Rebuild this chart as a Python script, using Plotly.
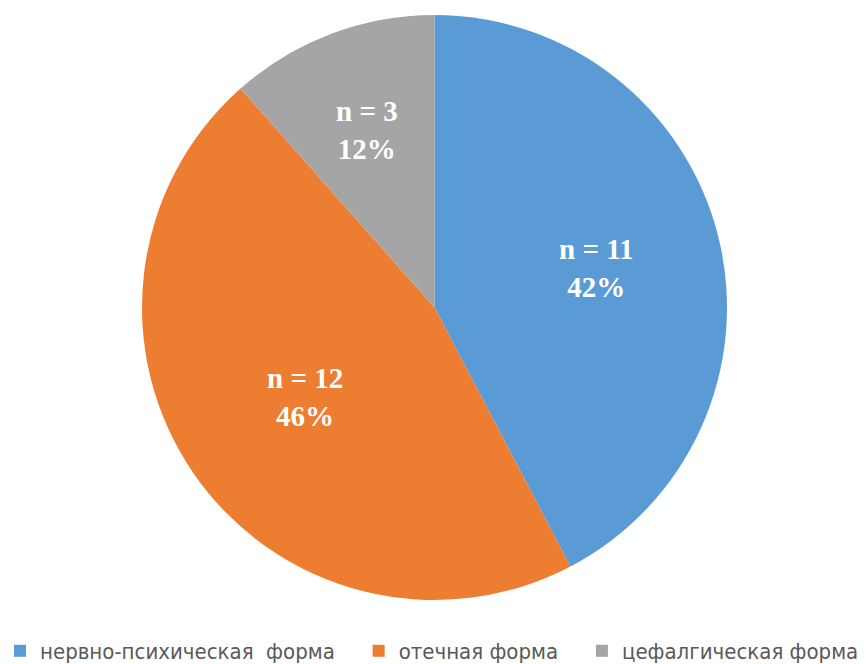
import math
import plotly.graph_objects as go

labels = ["нервно-психическая\u00a0 форма", "отечная форма", "цефалгическая форма"]
counts = [11, 12, 3]
percents = ["42%", "46%", "12%"]
colors = ["#5B9BD5", "#ED7D31", "#A5A5A5"]

# styling: radial position of each in-slice label (fraction of radius)
label_radius = [0.57, 0.54, 0.65]
legend_pad = "\u00a0" * 3

W, H = 867, 664
legend_top = 630          # px from top of figure; space below is reserved for the legend
HP = legend_top           # plotting-area height once the legend reserves its margin
cx, cy, r = 434.5, 307.5, 292.5

fig = go.Figure(go.Pie(
    labels=[lab + (legend_pad if i < len(labels) - 1 else "") for i, lab in enumerate(labels)],
    values=counts,
    textinfo="none",
    sort=False,
    direction="clockwise",
    rotation=0,
    marker=dict(colors=colors, line=dict(color="white", width=0)),
    domain=dict(x=[(cx - r) / W, (cx + r) / W], y=[1 - (cy + r) / HP, 1 - (cy - r) / HP]),
    hoverinfo="label+value+percent",
))

total = sum(counts)
cum = 0
for c, p, f in zip(counts, percents, label_radius):
    mid = (cum + c / 2) / total * 2 * math.pi
    cum += c
    px = cx + f * r * math.sin(mid)
    py = cy - f * r * math.cos(mid)
    fig.add_annotation(
        x=px / W, y=1 - py / HP, xref="paper", yref="paper",
        text=f"n = {c}<br>{p}", showarrow=False,
        xanchor="center", yanchor="middle", align="center",
        font=dict(family="Liberation Serif", size=29, color="white", weight="bold"),
    )

fig.update_layout(
    width=W, height=H,
    margin=dict(l=0, r=0, t=0, b=0),
    paper_bgcolor="white",
    showlegend=True,
    legend=dict(
        orientation="h", x=0.0, xanchor="left",
        yref="container", y=(H - legend_top) / H, yanchor="top",
        font=dict(family="DejaVu Sans Condensed, DejaVu Sans", size=22, color="#595959"),
        itemwidth=30,
    ),
)

fig.write_html("out.html", config={"displayModeBar": False},
               post_script="document.body.style.margin='0';")
